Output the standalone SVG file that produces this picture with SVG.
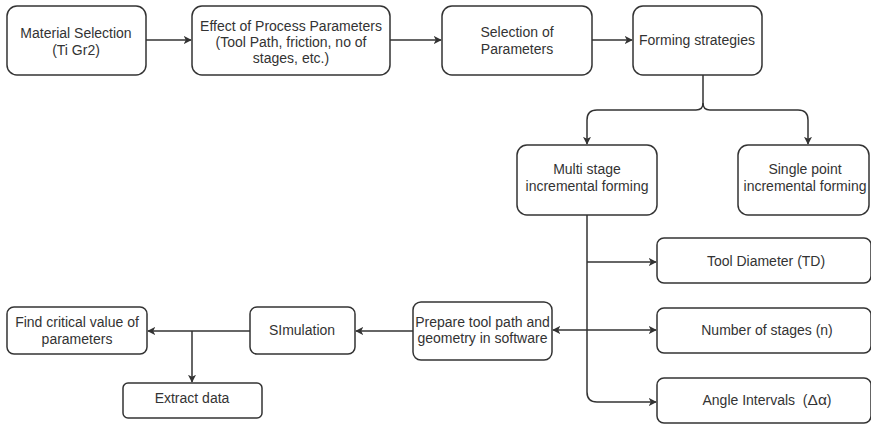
<svg xmlns="http://www.w3.org/2000/svg" width="871" height="424" viewBox="0 0 871 424">
<style>
.box{fill:#fff;stroke:#333;stroke-width:1.5}
.t{font-family:"Liberation Sans",Arial,sans-serif;font-size:14px;fill:#333;text-anchor:middle}
.c{fill:none;stroke:#333;stroke-width:1.5}
</style>
<defs>
<marker id="ah" viewBox="0 0 10 10" refX="9" refY="5" markerWidth="8" markerHeight="8" markerUnits="userSpaceOnUse" orient="auto">
<path d="M0,0 L10,5 L0,10 L2.5,5 Z" fill="#333"/>
</marker>
</defs>
<rect width="871" height="424" fill="#fff"/>
<g id="connectors">
<path class="c" d="M146,40 H191" marker-end="url(#ah)"/>
<path class="c" d="M390,40 H441" marker-end="url(#ah)"/>
<path class="c" d="M592,40 H632" marker-end="url(#ah)"/>
<path class="c" d="M703,75 V103 Q703,110 696,110 H597 Q587,110 587,120 V144" marker-end="url(#ah)"/>
<path class="c" d="M703,103 Q703,110 710,110 H798 Q808,110 808,120 V144" marker-end="url(#ah)"/>
<path class="c" d="M587,215 V392 Q587,402 597,402 H656" marker-end="url(#ah)"/>
<path class="c" d="M587,262 H656" marker-end="url(#ah)"/>
<path class="c" d="M587,330 H656" marker-end="url(#ah)"/>
<path class="c" d="M587,330 H553" marker-end="url(#ah)"/>
<path class="c" d="M413,331 H356" marker-end="url(#ah)"/>
<path class="c" d="M250,331 H148" marker-end="url(#ah)"/>
<path class="c" d="M192,331 V382" marker-end="url(#ah)"/>
</g>
<g id="material">
<rect class="box" x="7" y="6" width="139" height="69" rx="10"/>
<text class="t" x="76" y="38">Material Selection</text>
<text class="t" x="76" y="55">(Ti Gr2)</text>
</g>
<g id="effect">
<rect class="box" x="192" y="6" width="198" height="69" rx="10"/>
<text class="t" x="291" y="31">Effect of Process Parameters</text>
<text class="t" x="291" y="47">(Tool Path, friction, no of</text>
<text class="t" x="291" y="63">stages, etc.)</text>
</g>
<g id="selection">
<rect class="box" x="442" y="6" width="150" height="69" rx="10"/>
<text class="t" x="517" y="37">Selection of</text>
<text class="t" x="517" y="54">Parameters</text>
</g>
<g id="forming">
<rect class="box" x="633" y="6" width="129" height="69" rx="10"/>
<text class="t" x="697" y="45">Forming strategies</text>
</g>
<g id="multi">
<rect class="box" x="517" y="145" width="140" height="70" rx="10"/>
<text class="t" x="587" y="174">Multi stage</text>
<text class="t" x="587" y="191">incremental forming</text>
</g>
<g id="single">
<rect class="box" x="738" y="145" width="131" height="70" rx="10"/>
<text class="t" x="805" y="174">Single point</text>
<text class="t" x="805" y="191">incremental forming</text>
</g>
<g id="tooldiameter">
<rect class="box" x="657" y="238" width="214" height="45" rx="7"/>
<text class="t" x="766" y="266">Tool Diameter (TD)</text>
</g>
<g id="stages">
<rect class="box" x="657" y="308" width="214" height="45" rx="7"/>
<text class="t" x="767" y="335">Number of stages (n)</text>
</g>
<g id="angle">
<rect class="box" x="657" y="378" width="214" height="45" rx="7"/>
<text class="t" x="767" y="405" style="white-space:pre">Angle Intervals  (<tspan font-size="15.5">Δα</tspan>)</text>
</g>
<g id="prepare">
<rect class="box" x="413" y="302" width="139" height="58" rx="8"/>
<text class="t" x="482.5" y="327">Prepare tool path and</text>
<text class="t" x="482.5" y="343">geometry in software</text>
</g>
<g id="simulation">
<rect class="box" x="250" y="307" width="105" height="47" rx="7"/>
<text class="t" x="302" y="335">SImulation</text>
</g>
<g id="critical">
<rect class="box" x="7" y="307" width="140" height="47" rx="7"/>
<text class="t" x="77" y="327">Find critical value of</text>
<text class="t" x="77" y="344">parameters</text>
</g>
<g id="extract">
<rect class="box" x="123" y="383" width="139" height="35" rx="5"/>
<text class="t" x="192" y="403">Extract data</text>
</g>
</svg>
